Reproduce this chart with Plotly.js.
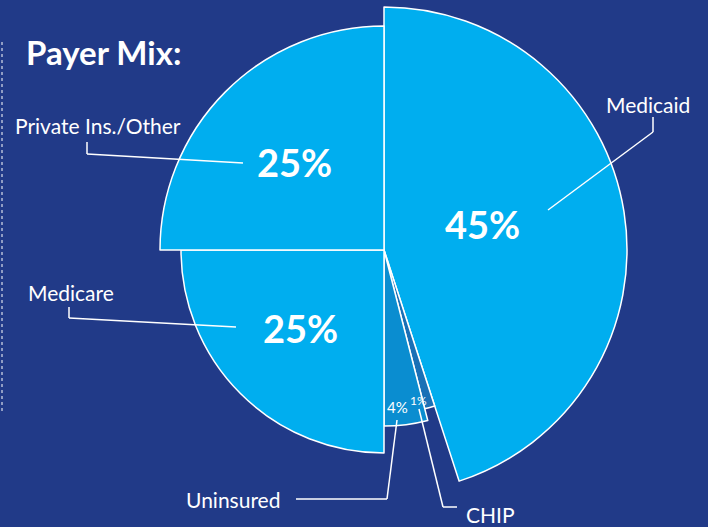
<!DOCTYPE html>
<html>
<head>
<meta charset="utf-8">
<script src="https://cdn.plot.ly/plotly-3.0.1.min.js"></script>
<style>
html,body{margin:0;padding:0;background:#213a88;}
#chart{width:708px;height:527px;}
</style>
</head>
<body>
<div id="chart"></div>
<script>
// ---- data ----
const labels = ['Medicaid', 'CHIP', 'Uninsured', 'Medicare', 'Private Ins./Other'];
const values = [45, 1, 4, 25, 25];
const chartTitle = 'Payer Mix:';

// ---- style ----
const W = 708, H = 527;
const cx = 384, cy = 250;                 // pie centre (px)
const sliceRadius = [243, 164, 176, 203, 224]; // drawn radius of each slice (px)
const sliceColors = ['#00aeef', '#1a70b6', '#0a8dd0', '#00aeef', '#00aeef'];
const bg = '#213a88';
const FONT = 'Lato, "Open Sans", sans-serif';

const px = x => x / W;
const py = y => 1 - y / H;

const traces = labels.map((_, i) => {
  const R = sliceRadius[i];
  return {
    type: 'pie',
    labels: labels,
    values: values,
    sort: false,
    direction: 'clockwise',
    rotation: 0,
    textinfo: 'none',
    hoverinfo: 'skip',
    showlegend: false,
    domain: {
      x: [(cx - R) / W, (cx + R) / W],
      y: [(H - cy - R) / H, (H - cy + R) / H]
    },
    marker: {
      colors: labels.map((_, j) => j === i ? sliceColors[i] : 'rgba(0,0,0,0)'),
      line: {
        color: labels.map((_, j) => j === i ? '#ffffff' : 'rgba(0,0,0,0)'),
        width: labels.map((_, j) => j === i ? 1.5 : 0)
      }
    }
  };
});

// label placement (px) – style only
const labelPos = {
  'Medicaid': [604, 104],
  'CHIP': [464, 514],
  'Uninsured': [184, 499],
  'Medicare': [26, 292],
  'Private Ins./Other': [13, 126]
};
const pctPos = [[482, 224], [418, 400], [397, 407], [300, 328], [294, 162]];
const pctSize = [38, 12, 15, 38, 38];
const pctBold = [true, false, false, true, true];

const annotations = [];
annotations.push({
  text: '<b>' + chartTitle + '</b>', x: px(24), y: py(52), xref: 'paper', yref: 'paper',
  xanchor: 'left', yanchor: 'middle', showarrow: false,
  font: {family: FONT, size: 33, color: '#ffffff'}
});
labels.forEach((lab, i) => {
  const p = labelPos[lab];
  annotations.push({
    text: lab, x: px(p[0]), y: py(p[1]), xref: 'paper', yref: 'paper',
    xanchor: 'left', yanchor: 'middle', showarrow: false,
    font: {family: FONT, size: 21, color: '#ffffff'}
  });
  const q = pctPos[i];
  annotations.push({
    text: pctBold[i] ? '<b>' + values[i] + '%</b>' : values[i] + '%',
    x: px(q[0]), y: py(q[1]), xref: 'paper', yref: 'paper',
    xanchor: 'center', yanchor: 'middle', showarrow: false,
    font: {family: FONT, size: pctSize[i], color: '#ffffff'}
  });
});

// leader lines (px polylines)
const leaders = [
  [[653, 117], [653, 132], [548, 210]],
  [[457, 507], [443, 507], [419, 409]],
  [[296, 499], [387, 499], [397, 420]],
  [[69, 307], [69, 318], [236, 327]],
  [[87, 142], [87, 154], [243, 163]]
];
const shapes = [];
leaders.forEach(pts => {
  for (let k = 0; k < pts.length - 1; k++) {
    shapes.push({
      type: 'line', xref: 'paper', yref: 'paper',
      x0: px(pts[k][0]), y0: py(pts[k][1]), x1: px(pts[k + 1][0]), y1: py(pts[k + 1][1]),
      line: {color: '#ffffff', width: 1.5}, layer: 'above'
    });
  }
});
shapes.push({
  type: 'line', xref: 'paper', yref: 'paper',
  x0: px(2), y0: py(42), x1: px(2), y1: py(413),
  line: {color: '#ffffff', width: 1, dash: 'dot'}, layer: 'above'
});

const layout = {
  width: W, height: H,
  margin: {l: 0, r: 0, t: 0, b: 0},
  paper_bgcolor: bg, plot_bgcolor: bg,
  showlegend: false,
  annotations: annotations,
  shapes: shapes
};

Plotly.newPlot('chart', traces, layout, {displayModeBar: false, staticPlot: true});
</script>
</body>
</html>
